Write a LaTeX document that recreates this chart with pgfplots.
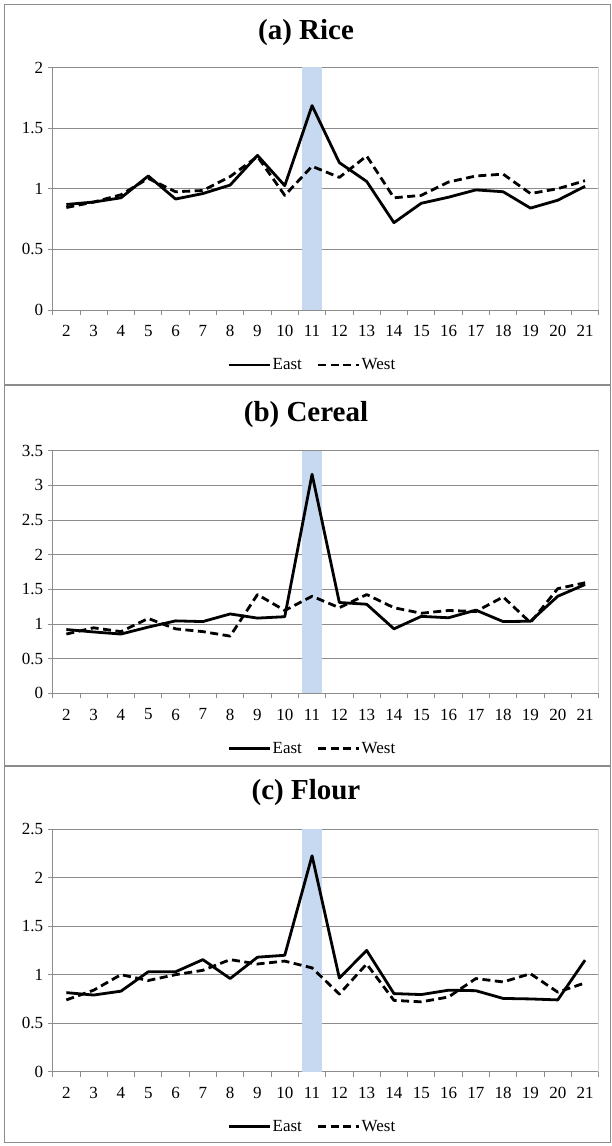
\documentclass[border=0pt]{standalone}
\usepackage{fontspec}
\setmainfont{Liberation Serif}
\usepackage{pgfplots}
\usepackage{pgfplotstable}
\pgfplotsset{compat=1.18}
\definecolor{bandblue}{HTML}{C6D9F1}
\definecolor{gridgray}{HTML}{8C8C8C}
\definecolor{framegray}{HTML}{8C8C8C}

\pgfplotstableread{
x east west
2 0.87 0.845
3 0.89 0.89
4 0.925 0.95
5 1.105 1.085
6 0.915 0.975
7 0.96 0.985
8 1.03 1.10
9 1.275 1.265
10 1.025 0.945
11 1.685 1.185
12 1.215 1.093
13 1.06 1.27
14 0.72 0.925
15 0.88 0.945
16 0.93 1.055
17 0.99 1.105
18 0.975 1.12
19 0.84 0.96
20 0.905 1.0
21 1.02 1.066
}\rice

\pgfplotstableread{
x east west
2 0.92 0.855
3 0.885 0.945
4 0.855 0.89
5 0.955 1.08
6 1.045 0.93
7 1.035 0.89
8 1.145 0.825
9 1.085 1.425
10 1.105 1.195
11 3.16 1.40
12 1.31 1.235
13 1.285 1.425
14 0.93 1.235
15 1.11 1.155
16 1.09 1.195
17 1.2 1.18
18 1.035 1.39
19 1.04 1.02
20 1.4 1.51
21 1.57 1.595
}\cereal

\pgfplotstableread{
x east west
2 0.815 0.74
3 0.79 0.84
4 0.83 1.0
5 1.03 0.94
6 1.03 1.0
7 1.155 1.045
8 0.96 1.155
9 1.18 1.11
10 1.20 1.14
11 2.225 1.07
12 0.965 0.80
13 1.25 1.11
14 0.805 0.735
15 0.795 0.72
16 0.84 0.77
17 0.835 0.96
18 0.755 0.925
19 0.75 1.01
20 0.74 0.82
21 1.15 0.915
}\flour

\pgfplotsset{
  panel/.style={
    scale only axis, width=546pt, height=242.6pt,
    anchor=south west,
    xmin=1.5, xmax=21.5, ymin=0,
    axis x line*=bottom, axis y line*=left,
    axis line style={gridgray, line width=0.9pt},
    xtick={2,...,21},
    minor xtick={1.5,2.5,...,21.5},
    major x tick style={draw=none},
    minor x tick style={gridgray, line width=0.9pt},
    minor tick length=5pt,
    major tick length=5pt,
    tick align=outside,
    y tick style={gridgray, line width=0.9pt},
    ymajorgrids,
    major grid style={gridgray, line width=0.9pt},
    /pgf/number format/assume math mode=true,
    /pgf/number format/fixed,
    ticklabel style={font=\fontsize{17}{17}\selectfont},
    xticklabel style={yshift=-7pt},
    yticklabel style={xshift=-1pt},
    legend columns=2,
    legend style={at={(0.475,0)}, anchor=center, yshift=-55pt, draw=none, fill=none,
      font=\fontsize{17}{17}\selectfont, inner sep=0pt,
      nodes={inner sep=1pt},
      /tikz/every even column/.append style={column sep=14pt}},
    legend cell align=left,
    legend image code/.code={\draw[#1] (0pt,0pt) -- (41pt,0pt);},
    clip=false,
  },
  east/.style={black, line width=2.8pt, line join=round},
  west/.style={black, line width=2.8pt, line join=round, dash pattern=on 8pt off 4.5pt},
}

\begin{document}
\begin{tikzpicture}
\useasboundingbox (0pt,0pt) rectangle (612pt,-1146pt);
\draw[framegray, line width=1pt] (4pt,-4pt) rectangle (610pt,-384pt);
\draw[framegray, line width=1pt] (4pt,-385pt) rectangle (610pt,-765pt);
\draw[framegray, line width=1pt] (4pt,-766pt) rectangle (610pt,-1142pt);

\node[font=\fontsize{29}{29}\bfseries\selectfont] at (306pt,-33pt) {(a) Rice};
\node[font=\fontsize{29}{29}\bfseries\selectfont] at (306pt,-415pt) {(b) Cereal};
\node[font=\fontsize{29}{29}\bfseries\selectfont] at (306pt,-793pt) {(c) Flour};

% Panel (a)
\begin{axis}[panel, at={(52.7pt,-310pt)}, ymax=2, ytick={0,0.5,...,2}]
\addplot[fill=bandblue, draw=none, forget plot] coordinates {(10.65,0) (11.35,0) (11.35,2) (10.65,2)} -- cycle;
\draw[gray!35, line width=0.9pt] (rel axis cs:1,0) -- (rel axis cs:1,1);
\addplot[east] table[x=x, y=east] {\rice};
\addlegendentry{East}
\addplot[west] table[x=x, y=west] {\rice};
\addlegendentry{West}
\end{axis}

% Panel (b)
\begin{axis}[panel, at={(52.7pt,-693.3pt)}, ymax=3.5, ytick={0,0.5,...,3.5}]
\addplot[fill=bandblue, draw=none, forget plot] coordinates {(10.65,0) (11.35,0) (11.35,3.5) (10.65,3.5)} -- cycle;
\draw[gray!35, line width=0.9pt] (rel axis cs:1,0) -- (rel axis cs:1,1);
\addplot[east] table[x=x, y=east] {\cereal};
\addlegendentry{East}
\addplot[west] table[x=x, y=west] {\cereal};
\addlegendentry{West}
\end{axis}

% Panel (c)
\begin{axis}[panel, at={(52.7pt,-1071.7pt)}, ymax=2.5, ytick={0,0.5,...,2.5}]
\addplot[fill=bandblue, draw=none, forget plot] coordinates {(10.65,0) (11.35,0) (11.35,2.5) (10.65,2.5)} -- cycle;
\draw[gray!35, line width=0.9pt] (rel axis cs:1,0) -- (rel axis cs:1,1);
\addplot[east] table[x=x, y=east] {\flour};
\addlegendentry{East}
\addplot[west] table[x=x, y=west] {\flour};
\addlegendentry{West}
\end{axis}
\end{tikzpicture}
\end{document}
